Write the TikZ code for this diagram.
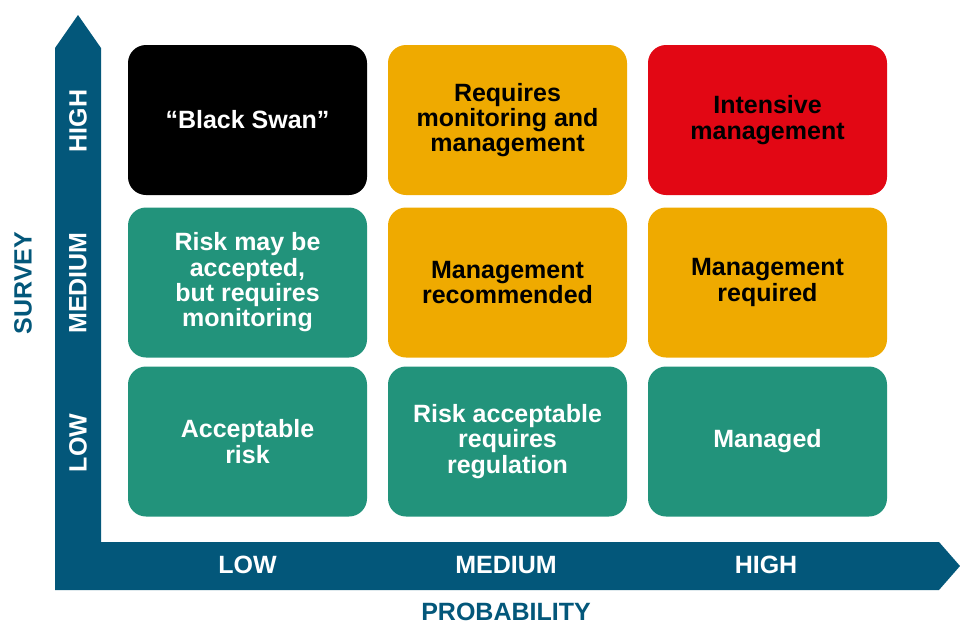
\documentclass[tikz,border=0pt]{standalone}
\usepackage{fontspec}
\setmainfont{Liberation Sans}
\definecolor{axisblue}{HTML}{03577A}
\definecolor{riskgreen}{HTML}{22937B}
\definecolor{riskorange}{HTML}{EFAA00}
\definecolor{riskred}{HTML}{E20714}
\begin{document}
\begin{tikzpicture}[x=1pt,y=-1pt,
  cell/.style={rounded corners=18pt, minimum width=239pt, minimum height=150pt, inner sep=0pt, align=center,
    font=\fontsize{25}{25.3}\selectfont\bfseries},
  axlbl/.style={text=white, font=\fontsize{25}{25.3}\selectfont\bfseries, inner sep=0pt},
  axtitle/.style={text=axisblue, font=\fontsize{25}{25.3}\selectfont\bfseries, inner sep=0pt}]
\useasboundingbox (0,0) rectangle (960,624);
\fill[axisblue] (55,48) -- (78,15) -- (101,48) -- (101,542) -- (939,542) -- (960,566) -- (939,590) -- (55,590) -- cycle;
% cells
\node[cell, fill=black, text=white] (c13) at (247.5,120) {“Black Swan”};
\node[cell, fill=riskorange, text=black] (c23) at (507.5,120) {Requires\\monitoring and\\management};
\node[cell, fill=riskred, text=black] (c33) at (767.5,120) {Intensive\\management};
\node[cell, fill=riskgreen, text=white] (c12) at (247.5,282.5) {Risk may be\\accepted,\\but requires\\monitoring};
\node[cell, fill=riskorange, text=black] (c22) at (507.5,282.5) {Management\\recommended};
\node[cell, fill=riskorange, text=black] (c32) at (767.5,282.5) {Management\\required};
\node[cell, fill=riskgreen, text=white] (c11) at (247.5,441.5) {Acceptable\\risk};
\node[cell, fill=riskgreen, text=white] (c21) at (507.5,441.5) {Risk acceptable\\requires\\regulation};
\node[cell, fill=riskgreen, text=white] (c31) at (767.5,441.5) {Managed};
% axis labels
\node[axlbl, rotate=90] (yh) at (78,121) {HIGH};
\node[axlbl, rotate=90] (ym) at (78,283) {MEDIUM};
\node[axlbl, rotate=90] (yl) at (78,443) {LOW};
\node[axlbl] (xl) at (247.5,565) {LOW};
\node[axlbl] (xm) at (506,565) {MEDIUM};
\node[axlbl] (xh) at (766,565) {HIGH};
\node[axtitle, rotate=90] (ys) at (23,283) {SURVEY};
\node[axtitle] (xs) at (506,612) {PROBABILITY};
\end{tikzpicture}
\end{document}
